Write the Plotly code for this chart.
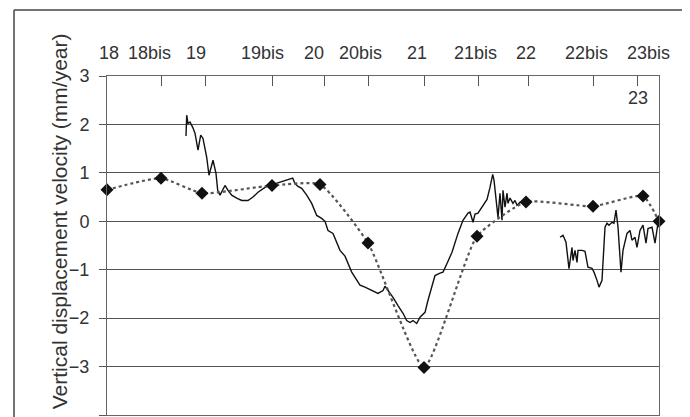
import plotly.graph_objects as go

# Station ticks along the levelling profile (arbitrary distance units)
station_pos = [0, 54, 98, 165, 217, 261, 317, 371, 421, 486, 530]
# Station names and where their labels sit along the top axis
station_labels = ["18", "18bis", "19", "19bis", "20", "20bis", "21", "21bis", "22", "22bis", "23bis"]
label_pos = [2, 42, 89, 155, 207, 253, 310, 368, 419, 479, 541]
extra_label = "23"
extra_label_pos = 531
x_range = [0, 552]

# Benchmark velocities (dotted line with diamonds)
bench_x = [0, 54, 95, 165, 213, 261, 317, 370, 419, 486, 536, 552]
bench_v = [0.65, 0.89, 0.58, 0.74, 0.76, -0.45, -3.02, -0.31, 0.40, 0.31, 0.52, 0.00]

# Continuous profile velocities (solid line), two segments
seg1_x = [79, 79.7, 81, 83, 85.7, 88, 91, 93.7, 96, 99.7, 102, 104.7, 106, 109, 110.7, 113,
          115.7, 118, 121, 124.7, 129.7, 134.7, 141, 146, 151, 158, 163, 169.7, 176, 181,
          185.7, 188, 191, 194.7, 199.7, 204.7, 209.7, 214.7, 218, 221, 226, 233, 238,
          244.7, 248, 253, 258, 264.7, 271, 276, 278, 281, 286, 291, 296, 299.7, 303,
          306, 309.7, 313, 318, 321, 326, 328, 333, 336, 340, 345, 351, 356, 361, 363,
          366, 368, 371, 375, 380, 383, 385.7, 387, 389, 391, 393, 395, 396, 398, 400,
          401, 403, 406, 408, 410, 413, 416]
seg1_v = [1.76, 2.19, 2.02, 2.05, 1.94, 1.82, 1.47, 1.78, 1.71, 1.32, 0.95, 1.20, 1.26, 0.99,
          0.64, 0.54, 0.64, 0.74, 0.64, 0.54, 0.48, 0.43, 0.43, 0.50, 0.60, 0.70, 0.74,
          0.78, 0.83, 0.85, 0.89, 0.78, 0.72, 0.68, 0.54, 0.37, 0.12, 0.06, 0.00, -0.19,
          -0.25, -0.60, -0.72, -1.05, -1.15, -1.32, -1.36, -1.43, -1.49, -1.43, -1.34,
          -1.43, -1.57, -1.74, -1.90, -2.05, -2.09, -2.05, -2.11, -1.98, -1.88, -1.63,
          -1.26, -1.12, -1.07, -1.05, -0.87, -0.64, -0.25, 0.02, 0.17, 0.19, -0.02, 0.15,
          0.17, 0.29, 0.45, 0.70, 0.97, 0.85, 0.50, 0.08, 0.58, 0.02, 0.64, 0.29, 0.58,
          0.37, 0.48, 0.37, 0.43, 0.33, 0.39, 0.37]
seg2_x = [453, 456, 459, 462, 465, 466, 468, 470, 471, 475, 478, 481, 485, 487, 490, 492,
          495, 498, 500, 502, 505, 507, 509, 511, 514, 516, 520, 523, 525, 528, 530, 533,
          536, 539, 541, 545, 548, 551]
seg2_v = [-0.33, -0.29, -0.43, -0.98, -0.54, -0.81, -0.60, -0.85, -0.60, -0.60, -0.62,
          -0.95, -0.97, -1.05, -1.22, -1.36, -1.22, -0.12, -0.04, -0.08, -0.02, -0.04,
          0.23, -0.12, -1.05, -0.60, -0.25, -0.19, -0.39, -0.33, -0.54, -0.19, -0.08,
          -0.45, -0.15, -0.12, -0.45, -0.04]

y_ticks = [-4, -3, -2, -1, 0, 1, 2, 3]
y_title = "Vertical displacement velocity (mm/year)"

FONT = "Liberation Sans, Arial, sans-serif"
TXT = "#333333"
GRID = "#555555"

fig = go.Figure()

fig.add_trace(go.Scatter(
    x=seg1_x + [None] + seg2_x,
    y=seg1_v + [None] + seg2_v,
    mode="lines",
    line=dict(color="#111111", width=1.4),
    connectgaps=False,
    hoverinfo="skip",
))

fig.add_trace(go.Scatter(
    x=bench_x, y=bench_v,
    mode="lines+markers",
    line=dict(color="#555555", width=2.2, dash="dot", shape="spline", smoothing=0.5),
    marker=dict(symbol="diamond", size=10, color="#111111"),
    cliponaxis=False,
))

# page body has an 8px margin; the figure is sized to fill the rest of the window
OFF = 8
W, H = 690 - OFF, 417 - OFF
ml, mr, mt, mb = 107 - OFF, 31, 76 - OFF, 2
pw, ph = W - ml - mr, H - mt - mb


def px(xp):
    return (xp - OFF - ml) / pw


def py(yp):
    return (H - mb - (yp - OFF)) / ph


label_font = dict(size=18, family=FONT, color=TXT)
annotations = [
    dict(x=xp, xref="x", y=py(53), yref="paper", text=t, showarrow=False,
         xanchor="center", yanchor="middle", font=label_font)
    for xp, t in zip(label_pos, station_labels)
]
annotations += [
    dict(x=extra_label_pos, xref="x", y=2.55, yref="y", text=extra_label,
         showarrow=False, xanchor="center", yanchor="middle", font=label_font),
    dict(x=px(59), xref="paper", y=0.0, yref="y", text=y_title, textangle=-90,
         xanchor="center", yanchor="middle",
         showarrow=False, font=dict(size=21, family=FONT, color=TXT)),
]

fig.update_layout(
    width=W, height=H,
    margin=dict(l=ml, r=mr, t=mt, b=mb, autoexpand=False),
    paper_bgcolor="white", plot_bgcolor="white",
    showlegend=False,
    font=dict(family=FONT, color=TXT),
    xaxis=dict(
        range=x_range, side="top", automargin=False,
        tickmode="array", tickvals=station_pos, showticklabels=False,
        ticks="inside", ticklen=10, tickcolor=GRID, tickwidth=1,
        showgrid=False, zeroline=False,
        showline=True, linecolor="#666666", linewidth=1, mirror=True,
    ),
    yaxis=dict(
        range=[-4, 3], tickmode="array", tickvals=y_ticks, automargin=False,
        ticks="outside", ticklen=7, tickcolor=GRID,
        showgrid=True, gridcolor=GRID, gridwidth=1, zeroline=False,
        showline=True, linecolor="#666666", linewidth=1, mirror=True,
        tickfont=dict(size=18, family=FONT, color=TXT),
        ticklabelstandoff=6,
    ),
    annotations=annotations,
    shapes=[
        dict(type="line", xref="paper", yref="paper", x0=px(14), x1=px(692),
             y0=py(10), y1=py(10), line=dict(color="#444444", width=1.5)),
        dict(type="line", xref="paper", yref="paper", x0=px(14), x1=px(14),
             y0=py(10), y1=py(420), line=dict(color="#444444", width=1.5)),
    ],
)

fig.write_html("out.html")
